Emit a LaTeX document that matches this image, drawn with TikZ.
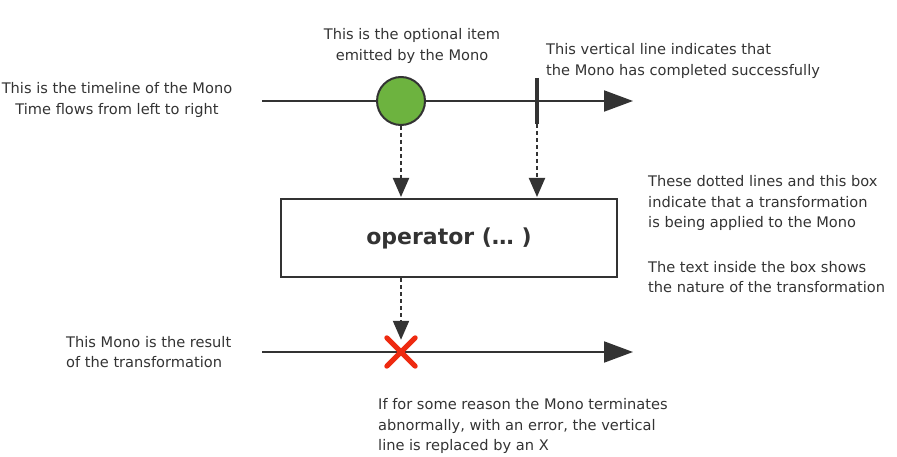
\documentclass[tikz,border=0pt]{standalone}
\usepackage{fontspec}
\setmainfont{DejaVu Sans}
\usetikzlibrary{arrows.meta}
\definecolor{ink}{HTML}{333333}
\definecolor{dotgreen}{HTML}{6DB33F}
\definecolor{xred}{HTML}{EE2A10}
\tikzset{
  x=1pt,y=-1pt,
  lbl/.style={font=\fontsize{14.6}{20.8}\selectfont, text=ink, inner sep=0pt},
  timeline/.style={draw=ink, line width=2pt, -{Triangle[length=29pt,width=21pt]}},
  dotarrow/.style={draw=ink, line width=2pt, dash pattern=on 4pt off 3pt, -{Triangle[length=19pt,width=16pt]}, shorten >=1pt},
}
\begin{document}
\begin{tikzpicture}
\useasboundingbox (0,0) rectangle (897,457);
% top timeline
\coordinate (t1s) at (262,101);
\coordinate (t1e) at (633,101);
\draw[timeline] (t1s) -- (t1e);
\node[circle, draw=ink, line width=2pt, fill=dotgreen, minimum size=48pt, inner sep=0pt] (item) at (401,101) {};
\coordinate (vtop) at (537,78);
\coordinate (vbot) at (537,124);
\draw[ink, line width=3.5pt] (vtop) -- (vbot);
% operator box
\node[draw=ink, line width=2pt, minimum width=336pt, minimum height=78pt, inner sep=0pt,
      font=\fontsize{22}{24}\selectfont\bfseries, text=ink] (op) at (449,238) {operator (… )};
\draw[dotarrow] (item.south) -- (item.south |- op.north);
\draw[dotarrow] (vbot) -- (vbot |- op.north);
% bottom timeline
\coordinate (t2s) at (262,352);
\coordinate (t2e) at (633,352);
\draw[timeline] (t2s) -- (t2e);
\node[minimum size=28pt, inner sep=0pt] (err) at (401,352) {};
\draw[xred, line width=5pt, line cap=round] (err.north west) -- (err.south east) (err.north east) -- (err.south west);
\draw[dotarrow, shorten >=-2pt] (op.south -| item.south) -- (err.north);
% labels
\node[lbl, align=center] (l1) at (117,100) {This is the timeline of the Mono\\Time flows from left to right};
\node[lbl, align=center] (l2) at (412,46) {This is the optional item\\emitted by the Mono};
\node[lbl, align=left, anchor=west] (l3) at (546,61) {This vertical line indicates that\\the Mono has completed successfully};
\node[lbl, align=left, anchor=west] (l4) at (648,203) {These dotted lines and this box\\indicate that a transformation\\is being applied to the Mono};
\node[lbl, align=left, anchor=west] (l5) at (648,277) {The text inside the box shows\\the nature of the transformation};
\node[lbl, align=left, anchor=west] (l6) at (66,352) {This Mono is the result\\of the transformation};
\node[lbl, align=left, anchor=west] (l7) at (378,426) {If for some reason the Mono terminates\\abnormally, with an error, the vertical\\line is replaced by an X};
\end{tikzpicture}
\end{document}
